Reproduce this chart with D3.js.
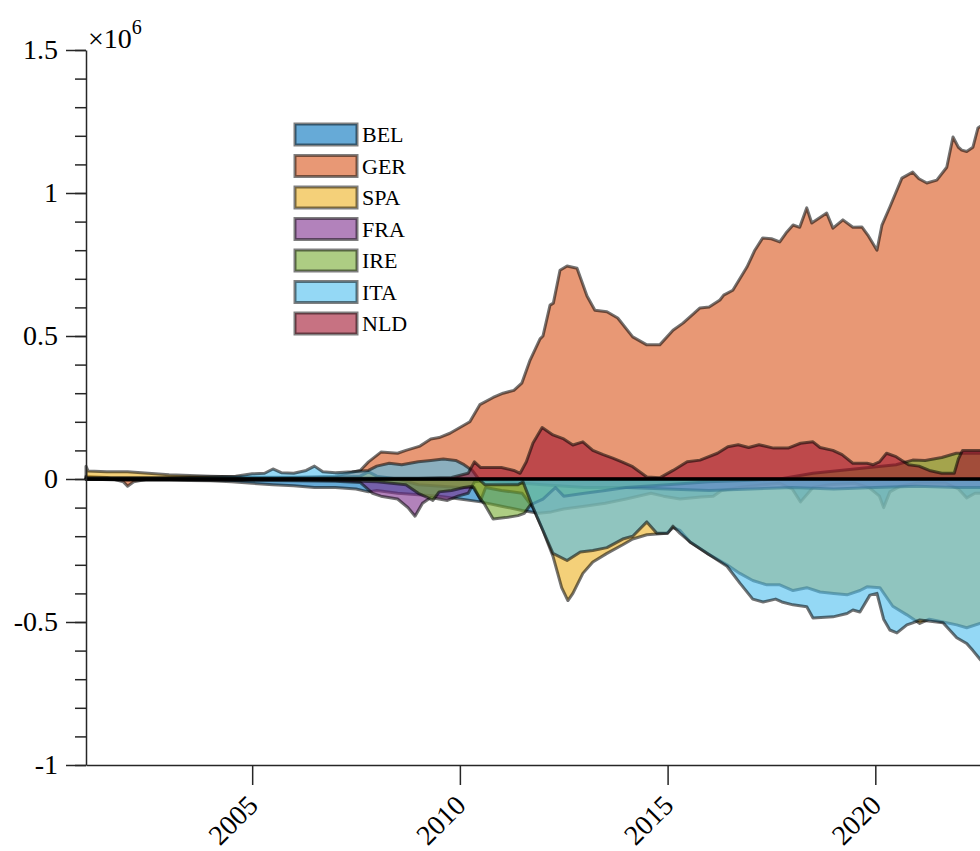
<!DOCTYPE html>
<html lang="en">
<head>
<meta charset="utf-8">
<title>Area chart</title>
<script src="https://cdn.jsdelivr.net/npm/d3@7"></script>
<style>
  body { margin: 0; background: white; }
  text { font-family: 'Liberation Serif', 'Times New Roman', serif; fill: #000; }
</style>
</head>
<body>
<div class="chart"></div>
<script>
// series values in units of 1e6, [year, value]
const categories = ["BEL", "GER", "SPA", "FRA", "IRE", "ITA", "NLD"];
const colors = ["#0072BD", "#D95319", "#EDB120", "#7E2F8E", "#77AC30", "#4DBEEE", "#A2142F"];

const BEL = [[2001.0,0.0],[2002.0,-0.003],[2003.0,-0.004],[2004.0,-0.006],[2004.5,-0.01],[2005.0,-0.015],[2005.5,-0.02],[2006.0,-0.024],[2006.5,-0.03],[2007.0,-0.03],[2007.5,-0.035],[2007.8,-0.045],[2008.0,-0.04],[2008.5,-0.05],[2009.0,-0.055],[2009.5,-0.06],[2010.0,-0.07],[2010.5,-0.08],[2011.0,-0.095],[2011.5,-0.11],[2011.9,-0.12],[2012.2,-0.115],[2012.5,-0.105],[2013.0,-0.095],[2013.5,-0.085],[2014.0,-0.07],[2014.6,-0.05],[2014.9,-0.06],[2015.3,-0.07],[2015.8,-0.063],[2016.1,-0.06],[2016.3,-0.04],[2016.8,-0.028],[2017.3,-0.02],[2017.7,-0.015],[2018.0,-0.035],[2018.2,-0.08],[2018.5,-0.03],[2018.9,-0.02],[2019.5,-0.015],[2019.85,-0.03],[2020.1,-0.06],[2020.2,-0.1],[2020.35,-0.045],[2020.6,-0.025],[2021.0,-0.015],[2021.7,-0.015],[2022.0,-0.035],[2022.2,-0.066],[2022.4,-0.05],[2022.7,-0.05]];

const GER = [[2001.0,0.01],[2001.5,0.005],[2001.9,-0.01],[2002.0,-0.025],[2002.15,-0.01],[2002.5,0.0],[2003.0,0.004],[2004.0,0.005],[2005.0,0.005],[2006.0,0.006],[2007.0,0.01],[2007.3,0.02],[2007.6,0.03],[2007.8,0.06],[2008.1,0.094],[2008.5,0.09],[2008.7,0.1],[2009.04,0.115],[2009.3,0.14],[2009.5,0.145],[2009.76,0.16],[2010.0,0.18],[2010.24,0.2],[2010.48,0.26],[2010.8,0.285],[2011.04,0.3],[2011.3,0.31],[2011.49,0.335],[2011.69,0.416],[2011.93,0.49],[2012.0,0.5],[2012.17,0.608],[2012.25,0.615],[2012.41,0.73],[2012.58,0.745],[2012.82,0.737],[2013.06,0.64],[2013.25,0.59],[2013.54,0.585],[2013.8,0.563],[2014.16,0.497],[2014.5,0.469],[2014.81,0.469],[2015.13,0.52],[2015.37,0.545],[2015.6,0.575],[2015.78,0.598],[2016.0,0.601],[2016.26,0.626],[2016.35,0.643],[2016.57,0.66],[2016.91,0.741],[2017.1,0.8],[2017.29,0.843],[2017.5,0.84],[2017.7,0.829],[2017.85,0.86],[2018.02,0.888],[2018.18,0.88],[2018.35,0.948],[2018.47,0.895],[2018.83,0.93],[2018.98,0.877],[2019.22,0.906],[2019.46,0.88],[2019.68,0.881],[2019.82,0.853],[2020.04,0.8],[2020.16,0.888],[2020.35,0.951],[2020.64,1.052],[2020.9,1.073],[2021.05,1.05],[2021.24,1.035],[2021.48,1.045],[2021.72,1.09],[2021.87,1.196],[2022.0,1.16],[2022.08,1.15],[2022.2,1.145],[2022.35,1.16],[2022.47,1.227],[2022.7,1.25]];

const SPA = [[2001.0,0.045],[2001.05,0.028],[2001.5,0.025],[2002.0,0.025],[2002.5,0.02],[2003.0,0.015],[2003.5,0.012],[2004.0,0.01],[2005.0,0.006],[2006.0,0.005],[2007.0,0.006],[2007.6,0.01],[2007.8,0.025],[2008.0,0.01],[2008.5,0.0],[2009.0,-0.02],[2010.0,-0.03],[2010.35,-0.03],[2010.5,-0.075],[2010.62,-0.03],[2011.0,-0.04],[2011.5,-0.05],[2011.76,-0.1],[2012.0,-0.18],[2012.24,-0.27],[2012.45,-0.38],[2012.6,-0.425],[2012.72,-0.4],[2012.96,-0.33],[2013.2,-0.29],[2013.54,-0.26],[2013.92,-0.23],[2014.16,-0.21],[2014.5,-0.195],[2014.98,-0.19],[2015.13,-0.17],[2015.3,-0.18],[2015.54,-0.22],[2015.95,-0.26],[2016.43,-0.3],[2016.74,-0.33],[2017.05,-0.355],[2017.39,-0.37],[2017.7,-0.37],[2018.02,-0.39],[2018.35,-0.38],[2018.67,-0.395],[2019.0,-0.4],[2019.32,-0.405],[2019.63,-0.39],[2019.8,-0.377],[2020.11,-0.38],[2020.42,-0.445],[2020.76,-0.475],[2021.07,-0.505],[2021.3,-0.49],[2021.63,-0.5],[2021.96,-0.51],[2022.2,-0.52],[2022.52,-0.505],[2022.7,-0.5]];

const FRA = [[2001.0,0.0],[2002.0,-0.004],[2003.0,-0.003],[2004.0,-0.005],[2005.0,-0.005],[2006.0,-0.006],[2007.0,-0.008],[2007.6,-0.012],[2007.9,-0.05],[2008.1,-0.06],[2008.5,-0.07],[2008.75,-0.1],[2008.92,-0.13],[2009.1,-0.085],[2009.3,-0.065],[2009.5,-0.07],[2009.7,-0.075],[2009.95,-0.06],[2010.2,-0.05],[2010.35,-0.01],[2010.6,-0.005],[2011.0,-0.01],[2012.0,-0.02],[2013.0,-0.03],[2014.0,-0.03],[2015.0,-0.035],[2016.0,-0.04],[2017.0,-0.035],[2018.0,-0.03],[2019.0,-0.035],[2020.0,-0.03],[2021.0,-0.025],[2022.0,-0.03],[2022.7,-0.03]];

const IRE = [[2001.0,0.0],[2003.0,-0.002],[2005.0,-0.003],[2007.0,-0.005],[2008.0,-0.01],[2008.7,-0.02],[2009.0,-0.05],[2009.2,-0.063],[2009.35,-0.075],[2009.5,-0.045],[2009.8,-0.04],[2010.1,-0.03],[2010.3,-0.025],[2010.45,-0.06],[2010.6,-0.09],[2010.8,-0.14],[2011.1,-0.135],[2011.4,-0.128],[2011.55,-0.12],[2011.7,-0.09],[2012.0,-0.07],[2012.3,-0.03],[2012.5,-0.06],[2013.0,-0.05],[2013.5,-0.04],[2014.0,-0.03],[2015.0,-0.02],[2016.0,-0.01],[2017.0,-0.004],[2017.7,0.0],[2018.5,0.02],[2019.5,0.035],[2020.5,0.05],[2020.9,0.066],[2021.2,0.065],[2021.6,0.075],[2021.95,0.09],[2022.2,0.09],[2022.7,0.09]];

const ITA = [[2001.0,0.005],[2002.0,0.005],[2003.0,0.005],[2004.0,0.008],[2004.6,0.01],[2005.0,0.018],[2005.3,0.02],[2005.5,0.035],[2005.7,0.022],[2006.0,0.02],[2006.3,0.03],[2006.5,0.045],[2006.7,0.025],[2007.0,0.022],[2007.4,0.025],[2007.8,0.03],[2008.0,0.045],[2008.3,0.055],[2008.6,0.05],[2009.0,0.06],[2009.3,0.065],[2009.6,0.07],[2009.9,0.065],[2010.1,0.05],[2010.3,0.03],[2010.45,0.0],[2010.6,-0.02],[2011.0,-0.02],[2011.4,-0.02],[2011.52,-0.01],[2011.76,-0.1],[2012.0,-0.18],[2012.24,-0.26],[2012.58,-0.285],[2012.9,-0.255],[2013.2,-0.25],[2013.54,-0.24],[2013.92,-0.21],[2014.16,-0.2],[2014.5,-0.15],[2014.74,-0.19],[2015.0,-0.19],[2015.13,-0.165],[2015.3,-0.19],[2015.54,-0.22],[2015.95,-0.26],[2016.43,-0.305],[2016.74,-0.364],[2017.05,-0.42],[2017.3,-0.43],[2017.6,-0.42],[2017.75,-0.43],[2018.02,-0.44],[2018.35,-0.447],[2018.5,-0.486],[2018.98,-0.482],[2019.32,-0.47],[2019.46,-0.458],[2019.63,-0.465],[2019.87,-0.406],[2020.04,-0.4],[2020.2,-0.49],[2020.35,-0.528],[2020.52,-0.538],[2020.76,-0.51],[2020.9,-0.503],[2021.07,-0.493],[2021.63,-0.503],[2021.96,-0.555],[2022.2,-0.575],[2022.35,-0.6],[2022.52,-0.63],[2022.7,-0.66]];

const NLD = [[2001.0,0.0],[2003.0,0.002],[2005.0,0.002],[2007.0,0.003],[2009.0,0.003],[2009.8,0.005],[2010.2,0.02],[2010.35,0.06],[2010.5,0.04],[2010.8,0.04],[2011.0,0.04],[2011.3,0.03],[2011.45,0.02],[2011.6,0.06],[2011.76,0.126],[2011.98,0.18],[2012.24,0.154],[2012.5,0.14],[2012.72,0.119],[2012.96,0.13],[2013.2,0.1],[2013.45,0.085],[2013.68,0.073],[2013.9,0.06],[2014.16,0.043],[2014.5,0.007],[2014.81,0.004],[2015.13,0.03],[2015.47,0.06],[2015.78,0.066],[2016.2,0.09],[2016.45,0.113],[2016.7,0.12],[2016.95,0.11],[2017.2,0.12],[2017.55,0.108],[2017.9,0.108],[2018.2,0.125],[2018.5,0.13],[2018.67,0.11],[2018.98,0.1],[2019.2,0.085],[2019.46,0.055],[2019.8,0.055],[2019.95,0.05],[2020.1,0.06],[2020.27,0.09],[2020.5,0.078],[2020.8,0.05],[2021.05,0.045],[2021.3,0.03],[2021.6,0.02],[2021.9,0.02],[2022.0,0.07],[2022.1,0.1],[2022.3,0.1],[2022.7,0.1]];

const seriesValues = [BEL, GER, SPA, FRA, IRE, ITA, NLD];

const xTicks = [2005, 2010, 2015, 2020];
const xTickLabels = ["2005", "2010", "2015", "2020"];
const yTicks = [-1, -0.5, 0, 0.5, 1, 1.5];
const yTickLabels = ["-1", "-0.5", "0", "0.5", "1", "1.5"];

const width = 980, height = 851;
const marginLeft = 86, plotTop = 50, plotBottom = 765;
const serif = "'Liberation Serif', 'Times New Roman', serif";

const x = d3.scaleLinear().domain([2001, 2022.52]).range([marginLeft, width]);
const y = d3.scaleLinear().domain([-1, 1.5]).range([plotBottom, plotTop]);

const svg = d3.select(".chart").append("svg")
  .attr("width", width)
  .attr("height", height)
  .style("display", "block");

// areas, each from zero, overlapping
const area = d3.area()
  .x(d => x(d[0]))
  .y0(y(0))
  .y1(d => y(d[1]));

svg.append("g").selectAll("path")
  .data(seriesValues)
  .join("path")
  .attr("d", area)
  .attr("fill", (d, i) => colors[i])
  .attr("fill-opacity", 0.6)
  .attr("stroke", "#000")
  .attr("stroke-opacity", 0.55)
  .attr("stroke-width", 3)
  .attr("stroke-linejoin", "round");

// baseline
svg.append("line")
  .attr("x1", x(2001)).attr("x2", width)
  .attr("y1", y(0)).attr("y2", y(0))
  .attr("stroke", "#000")
  .attr("stroke-width", 3);

// y axis: minor ticks
svg.append("g")
  .attr("transform", `translate(${marginLeft},0)`)
  .call(d3.axisLeft(y).tickValues(d3.range(-1, 1.5001, 0.1)).tickSize(11).tickFormat(""))
  .call(g => g.select(".domain").remove())
  .call(g => g.selectAll("line").attr("stroke", "#262626").attr("stroke-width", 1.5));

// y axis: major ticks
svg.append("g")
  .attr("transform", `translate(${marginLeft},0)`)
  .call(d3.axisLeft(y).tickValues(yTicks).tickSize(20).tickSizeOuter(0)
    .tickFormat((d, i) => yTickLabels[i]))
  .call(g => g.select(".domain").attr("stroke", "#262626").attr("stroke-width", 1.5))
  .call(g => g.selectAll("line").attr("stroke", "#262626").attr("stroke-width", 1.5))
  .call(g => g.selectAll("text")
    .attr("x", -28)
    .style("font-family", serif)
    .style("font-size", "28px"));

// x axis
svg.append("g")
  .attr("transform", `translate(0,${plotBottom})`)
  .call(d3.axisBottom(x).tickValues(xTicks).tickSize(20).tickSizeOuter(0)
    .tickFormat((d, i) => xTickLabels[i]))
  .call(g => g.select(".domain").attr("stroke", "#262626").attr("stroke-width", 1.5))
  .call(g => g.selectAll("line").attr("stroke", "#262626").attr("stroke-width", 1.5))
  .call(g => g.selectAll("text")
    .attr("y", 0).attr("dy", 0)
    .attr("text-anchor", "end")
    .attr("transform", "translate(7,42) rotate(-45)")
    .style("font-family", serif)
    .style("font-size", "28px"));

// exponent label
const expo = svg.append("text")
  .attr("x", 88).attr("y", 48)
  .style("font-family", serif)
  .style("font-size", "28px");
expo.append("tspan").text("\u00d710");
expo.append("tspan").attr("dy", -14).style("font-size", "20px").text("6");

// legend
const legend = svg.append("g").attr("transform", "translate(295,124)");
const rows = legend.selectAll("g")
  .data(categories)
  .join("g")
  .attr("transform", (d, i) => `translate(0,${i * 31.5})`);
rows.append("rect")
  .attr("width", 62).attr("height", 21)
  .attr("fill", (d, i) => colors[i])
  .attr("fill-opacity", 0.6)
  .attr("stroke", "#000")
  .attr("stroke-opacity", 0.5)
  .attr("stroke-width", 3);
rows.append("text")
  .attr("x", 67).attr("y", 18)
  .style("font-family", serif)
  .style("font-size", "22px")
  .text(d => d);
</script>
</body>
</html>
